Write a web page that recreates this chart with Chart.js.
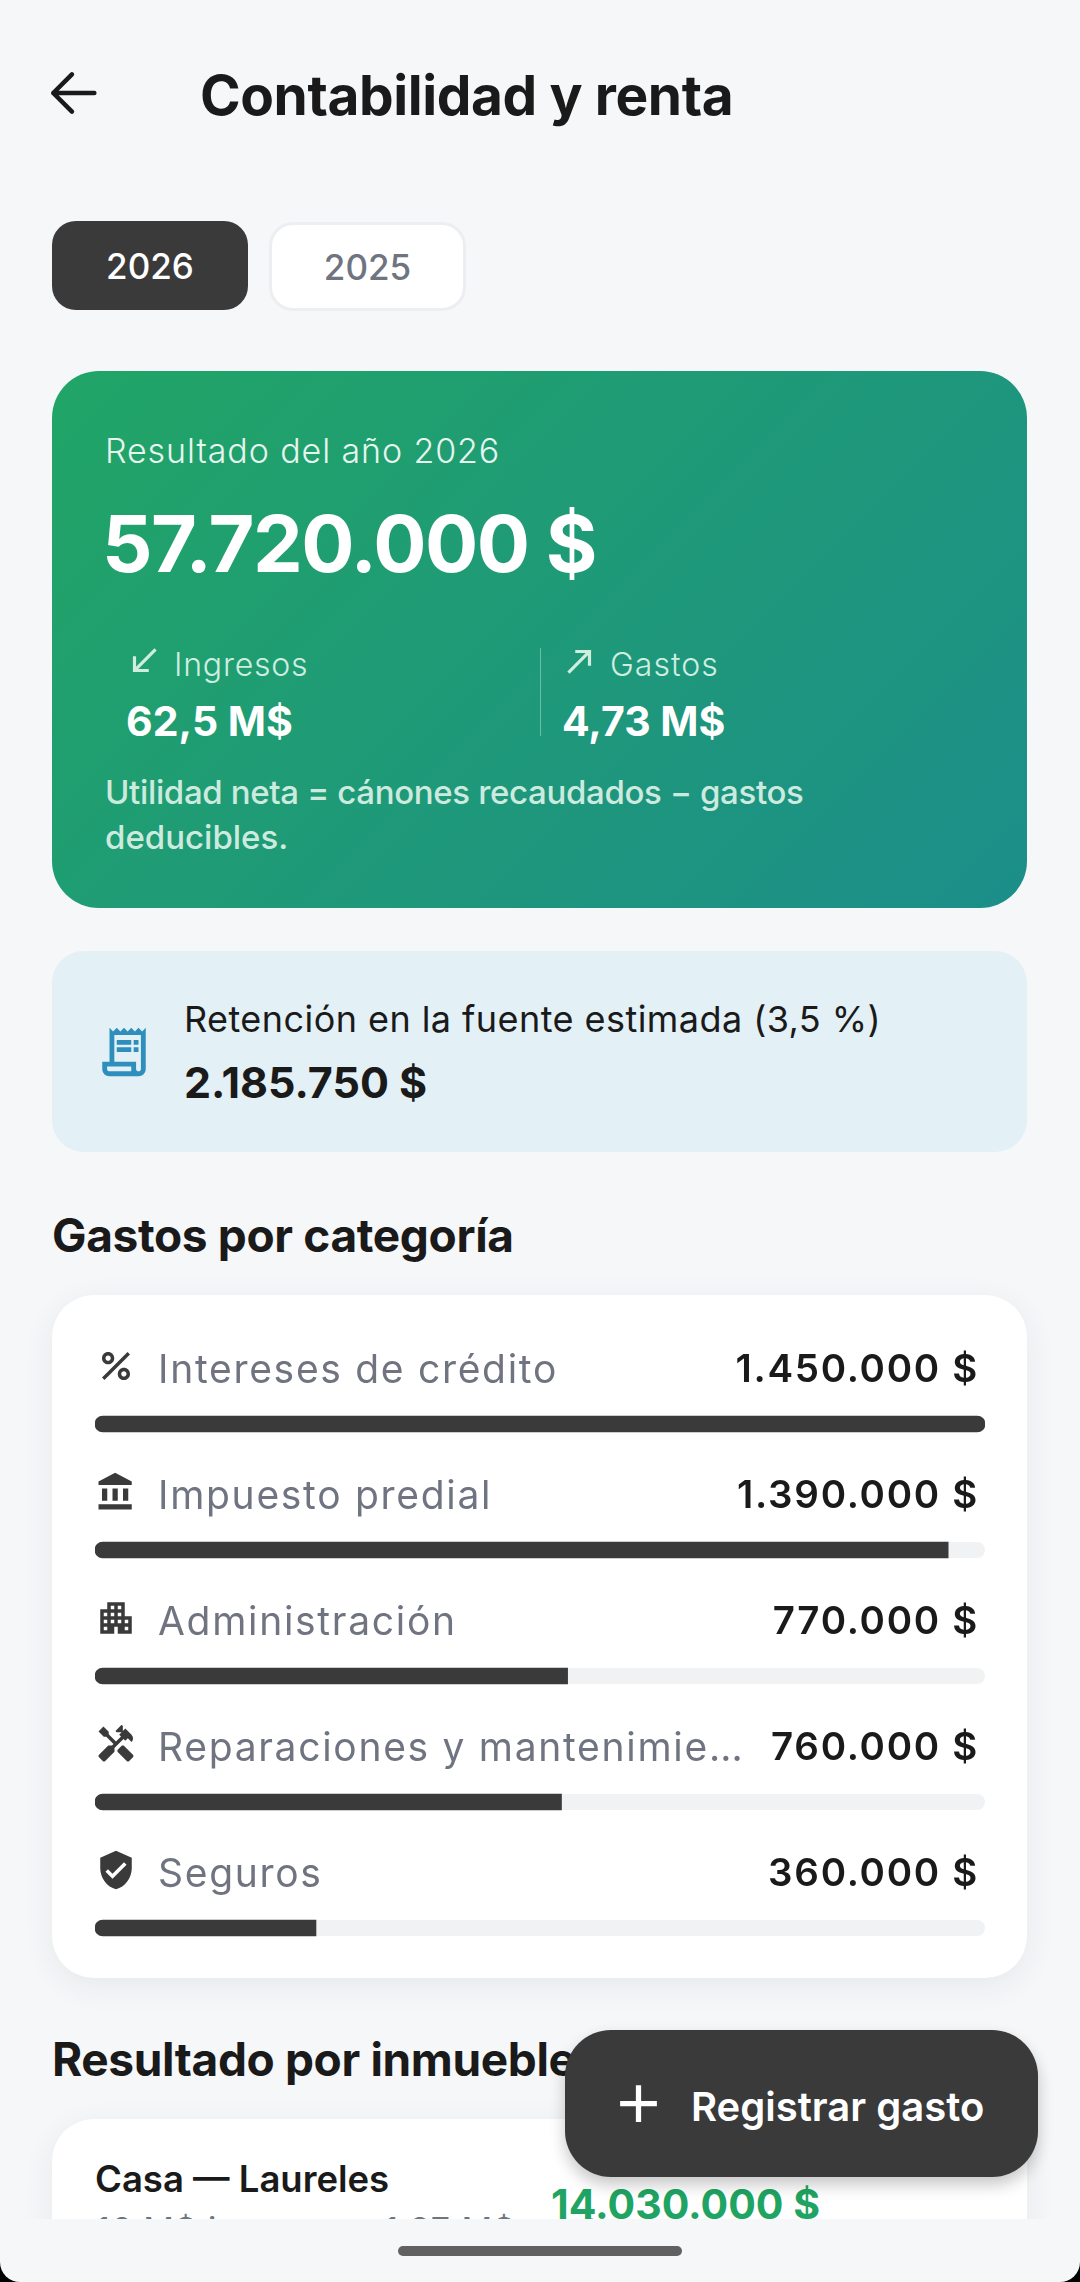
<!DOCTYPE html>
<html lang="es">
<head>
<meta charset="utf-8">
<title>Contabilidad y renta</title>
<script src="https://cdn.jsdelivr.net/npm/chart.js@4/dist/chart.umd.js"></script>
<style>
  html, body { margin: 0; padding: 0; background: #f6f7f9; }
  body { width: 1080px; height: 2282px; position: relative; overflow: hidden; font-family: Inter, sans-serif; color: #1a1a1a; }
  .abs { position: absolute; white-space: nowrap; }
  .mid { transform: translateY(-50%); }
  svg { position: absolute; display: block; }
  #btn2026 { left: 52px; top: 221px; width: 196px; height: 89px; background: #3a3a3a; border-radius: 24px; color: #fff; }
  #btn2025 { left: 269px; top: 222px; width: 189px; height: 81px; padding: 1px; background: #fff; border: 3px solid #eceef1; border-radius: 24px; color: #6f7480; }
  .btn { display: flex; align-items: center; justify-content: center; font-size: 35px; font-weight: 500; }
  #green { left: 52px; top: 371px; width: 975px; height: 537px; border-radius: 47px; background: linear-gradient(135deg, #21a566 0%, #1c8e8a 100%); }
  #blue { left: 52px; top: 951px; width: 975px; height: 201px; border-radius: 32px; background: #e3f0f6; }
  #white { left: 52px; top: 1295px; width: 975px; height: 683px; border-radius: 42px; background: #fff; box-shadow: 0 8px 32px rgba(30,40,60,.07); }
  #chartWrap { position: absolute; left: 52px; top: 1295px; width: 975px; height: 700px; }
  #card2 { left: 52px; top: 2119px; width: 975px; height: 200px; border-radius: 42px; background: #fff; box-shadow: 0 8px 32px rgba(30,40,60,.07); }
  #fab { left: 565px; top: 2030px; width: 473px; height: 147px; border-radius: 46px; background: #3a3a3a; box-shadow: 0 8px 16px rgba(0,0,0,.22); }
  #corners { left: 0; top: 2250px; width: 1080px; height: 32px; background: #000; }
  #bottom { left: 0; top: 2219px; width: 1080px; height: 63px; background: #f6f7f9; border-radius: 0 0 20px 20px; }
  #pill { left: 398px; top: 2246px; width: 284px; height: 10px; border-radius: 5px; background: #606160; }
</style>
</head>
<body>

<svg style="left:41px;top:61px" width="64" height="64" viewBox="0 0 24 24" fill="none" stroke="#1a1a1a" stroke-width="1.7" stroke-linecap="round" stroke-linejoin="round"><path d="M20 12H4.6M11.6 5l-7 7 7 7"/></svg>
<div class="abs mid" style="left:200px;top:95px;font-size:55px;font-weight:700;letter-spacing:-0.4px">Contabilidad y renta</div>

<div id="btn2026" class="abs btn">2026</div>
<div id="btn2025" class="abs btn">2025</div>

<div id="green" class="abs"></div>
<div class="abs mid" style="left:105px;top:450px;font-size:34px;font-weight:300;letter-spacing:0.9px;color:#e6f5ee">Resultado del año 2026</div>
<div class="abs mid" style="left:102px;top:543px;font-size:79px;font-weight:700;color:#fff;letter-spacing:-1.5px">57.720.000 $</div>
<svg style="left:125px;top:642px" width="38" height="38" viewBox="0 0 24 24" fill="#cfeee0"><path d="M15 19v-2H8.41L20 5.41 18.59 4 7 15.59V9H5v10h10z"/></svg>
<div class="abs mid" style="left:174px;top:664px;font-size:32px;font-weight:300;letter-spacing:0.8px;color:#cfeee0">Ingresos</div>
<div class="abs mid" style="left:126px;top:721px;font-size:41px;font-weight:700;color:#fff">62,5 M$</div>
<div class="abs" style="left:540px;top:648px;width:1px;height:88px;background:rgba(255,255,255,.35)"></div>
<svg style="left:561px;top:642px" width="38" height="38" viewBox="0 0 24 24" fill="#cfeee0"><path d="M9 5v2h6.59L4 18.59 5.41 20 17 8.41V15h2V5z"/></svg>
<div class="abs mid" style="left:610px;top:664px;font-size:32px;font-weight:300;letter-spacing:1px;color:#cfeee0">Gastos</div>
<div class="abs mid" style="left:562px;top:721px;font-size:41px;font-weight:700;color:#fff">4,73 M$</div>
<div class="abs mid" style="left:105px;top:792px;font-size:33px;font-weight:500;letter-spacing:-0.35px;color:#cdeadf">Utilidad neta = cánones recaudados − gastos</div>
<div class="abs mid" style="left:105px;top:837px;font-size:33px;font-weight:500;color:#cdeadf">deducibles.</div>

<div id="blue" class="abs"></div>
<svg style="left:95px;top:1023px" width="58" height="58" viewBox="0 0 24 24" fill="#2e8fbd"><path d="M19.5 3.5 18 2l-1.5 1.5L15 2l-1.5 1.5L12 2l-1.5 1.5L9 2 7.5 3.5 6 2v14H3v3c0 1.66 1.34 3 3 3h12c1.66 0 3-1.34 3-3V2l-1.5 1.5zM15 20H6c-.55 0-1-.45-1-1v-1h10v2zm4-1c0 .55-.45 1-1 1s-1-.45-1-1v-3H8V5h11v14z"/><path d="M9 7h6v2H9zM16 7h2v2h-2zM9 10h6v2H9zM16 10h2v2h-2z"/></svg>
<div class="abs mid" style="left:184px;top:1019px;font-size:36px;font-weight:400;letter-spacing:0.44px">Retención en la fuente estimada (3,5 %)</div>
<div class="abs mid" style="left:184px;top:1082px;font-size:43px;font-weight:700">2.185.750 $</div>

<div class="abs mid" style="left:52px;top:1235px;font-size:46px;font-weight:700;letter-spacing:-0.35px">Gastos por categoría</div>

<div id="white" class="abs"></div>
<div id="chartWrap"><canvas id="chartGastos"></canvas></div>
<svg style="left:95px;top:1345px" width="42" height="42" viewBox="0 0 24 24" fill="#3a3a3a"><path d="M7.5 11C9.43 11 11 9.43 11 7.5S9.43 4 7.5 4 4 5.57 4 7.5 5.57 11 7.5 11zm0-5C8.33 6 9 6.67 9 7.5S8.33 9 7.5 9 6 8.33 6 7.5 6.67 6 7.5 6zM4.0025 18.5831 18.5875 4.0019l1.4142 1.4142L5.4167 20zM16.5 13c-1.93 0-3.5 1.57-3.5 3.5s1.57 3.5 3.5 3.5 3.5-1.57 3.5-3.5-1.57-3.5-3.5-3.5zm0 5c-.83 0-1.5-.67-1.5-1.5s.67-1.5 1.5-1.5 1.5.67 1.5 1.5-.67 1.5-1.5 1.5z"/></svg>
<svg style="left:95px;top:1471px" width="42" height="42" viewBox="0 0 24 24" fill="#3a3a3a"><path d="M4 10v7h3v-7H4zm6 0v7h3v-7h-3zM2 22h19v-3H2v3zm14-12v7h3v-7h-3zm-4.5-9L2 6v2h19V6l-9.5-5z"/></svg>
<svg style="left:95px;top:1597px" width="42" height="42" viewBox="0 0 24 24" fill="#3a3a3a"><path d="M17 11V3H7v4H3v14h8v-4h2v4h8V11h-4zM7 19H5v-2h2v2zm0-4H5v-2h2v2zm0-4H5V9h2v2zm4 4H9v-2h2v2zm0-4H9V9h2v2zm0-4H9V5h2v2zm4 8h-2v-2h2v2zm0-4h-2V9h2v2zm0-4h-2V5h2v2zm4 12h-2v-2h2v2zm0-4h-2v-2h2v2z"/></svg>
<svg style="left:95px;top:1723px" width="42" height="42" viewBox="0 0 24 24" fill="#3a3a3a"><path d="M21.67 18.17l-5.3-5.3h-.99l-2.54 2.54v.99l5.3 5.3c.39.39 1.02.39 1.41 0l2.12-2.12c.39-.38.39-1.02 0-1.41z"/><path d="M17.34 10.19l1.41-1.41 2.12 2.12c1.17-1.17 1.17-3.07 0-4.24l-3.54-3.54-1.41 1.41V1.71L15.22 1l-3.54 3.54.71.71h2.83l-1.41 1.41 1.06 1.06-2.89 2.89-4.13-4.13V5.06L4.83 2.04 2 4.87 5.03 7.9h1.41l4.13 4.13-.85.85H7.6l-5.3 5.3c-.39.39-.39 1.02 0 1.41l2.12 2.12c.39.39 1.02.39 1.41 0l5.3-5.3v-2.12l5.15-5.15 1.06 1.05z"/></svg>
<svg style="left:95px;top:1849px" width="42" height="42" viewBox="0 0 24 24" fill="#3a3a3a"><path d="M12 1L3 5v6c0 5.55 3.84 10.74 9 12 5.16-1.26 9-6.45 9-12V5l-9-4zm-2 16l-4-4 1.41-1.41L10 14.17l6.59-6.59L18 9l-8 8z"/></svg>

<div class="abs mid" style="left:52px;top:2059px;font-size:46px;font-weight:700;letter-spacing:-0.35px">Resultado por inmueble</div>

<div id="card2" class="abs"></div>
<div class="abs mid" style="left:95px;top:2179px;font-size:36.5px;font-weight:600">Casa — Laureles</div>
<div class="abs" style="left:96px;top:2209px;font-size:34px;font-weight:400;letter-spacing:0.9px;color:#6f7480">16 M$ ingresos · 1,97 M$ gastos</div>
<div class="abs mid" style="left:551px;top:2204px;font-size:41px;font-weight:700;color:#1fa463">14.030.000 $</div>

<div id="fab" class="abs"></div>
<svg style="left:607px;top:2072px" width="63" height="63" viewBox="0 0 24 24" fill="#fff"><path d="M19 13h-6v6h-2v-6H5v-2h6V5h2v6h6v2z"/></svg>
<div class="abs mid" style="left:691px;top:2106px;font-size:40px;font-weight:600;color:#fff">Registrar gasto</div>

<div id="corners" class="abs"></div>
<div id="bottom" class="abs"></div>
<div id="pill" class="abs"></div>

<script>
const categorias = ['Intereses de crédito', 'Impuesto predial', 'Administración', 'Reparaciones y mantenimie…', 'Seguros'];
const gastos = [1450000, 1390000, 770000, 760000, 360000];
const etiquetasGastos = ['1.450.000 $', '1.390.000 $', '770.000 $', '760.000 $', '360.000 $'];

const gris = '#3a3a3a';
const maxGasto = gastos[0];

// mirrored ticks still reserve room for their padding, drop it
const sinEspacio = scale => {
  scale.width = 0;
  scale.paddingTop = 0;
  scale.paddingBottom = 0;
};

// track behind each bar, same band as the bar itself
const pistaPlugin = {
  id: 'pista',
  beforeDraw(chart) {
    chart.ctx.letterSpacing = '1.7px';
  },
  beforeDatasetsDraw(chart) {
    const ctx = chart.ctx;
    const x = chart.scales.x;
    chart.getDatasetMeta(0).data.forEach(bar => {
      ctx.save();
      ctx.fillStyle = '#f1f2f4';
      ctx.beginPath();
      ctx.roundRect(x.left, bar.y - bar.height / 2, x.right - x.left, bar.height, 8);
      ctx.fill();
      ctx.restore();
    });
  }
};

const chartGastos = document.getElementById('chartGastos');
new Chart(chartGastos, {
  type: 'bar',
  plugins: [pistaPlugin],
  data: {
    labels: categorias,
    datasets: [{
      data: gastos,
      backgroundColor: gris,
      barThickness: 16,
      borderSkipped: false,
      borderRadius: c => c.raw >= maxGasto ? 8 : { topLeft: 8, bottomLeft: 8, topRight: 0, bottomRight: 0 }
    }]
  },
  options: {
    indexAxis: 'y',
    responsive: true,
    maintainAspectRatio: false,
    animation: false,
    events: [],
    layout: { padding: { left: 43, right: 42, top: 66, bottom: 4 } },
    plugins: { legend: { display: false }, tooltip: { enabled: false } },
    scales: {
      x: { display: false, min: 0, max: maxGasto },
      y: {
        position: 'left',
        afterFit: sinEspacio,
        grid: { display: false, drawTicks: false },
        border: { display: false },
        ticks: {
          mirror: true, padding: 63, labelOffset: -53, autoSkip: false, maxRotation: 0,
          color: '#6f7480', font: { family: 'Inter', size: 39, weight: '400' }
        }
      },
      yValores: {
        type: 'category',
        position: 'right',
        labels: etiquetasGastos,
        afterFit: sinEspacio,
        grid: { display: false, drawTicks: false },
        border: { display: false },
        ticks: {
          mirror: true, padding: -6, labelOffset: -54, autoSkip: false, maxRotation: 0,
          color: '#1a1a1a', font: { family: 'Inter', size: 38.5, weight: '600' }
        }
      }
    }
  }
});
</script>
</body>
</html>
